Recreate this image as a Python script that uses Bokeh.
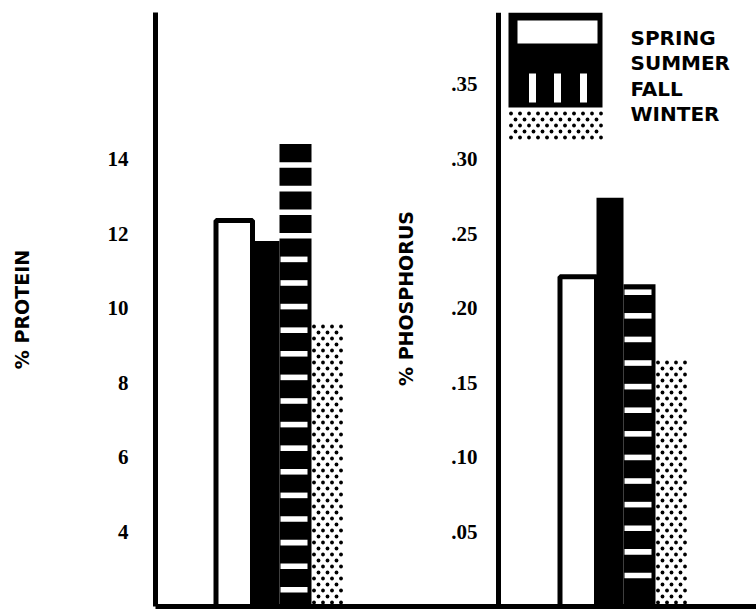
import numpy as np
from bokeh.plotting import figure
from bokeh.models import Range1d, FixedTicker, Span
from bokeh.core.properties import value
from bokeh.embed import file_html
from bokeh.resources import INLINE

# ---------------- data ----------------
seasons = ["SPRING", "SUMMER", "FALL", "WINTER"]
protein = [12.35, 11.8, 14.4, 9.65]          # % protein
phosphorus = [0.221, 0.274, 0.216, 0.166]    # % phosphorus
protein_ticks = [4, 6, 8, 10, 12, 14]
phosphorus_ticks = [0.05, 0.10, 0.15, 0.20, 0.25, 0.30, 0.35]
phosphorus_tick_labels = [".05", ".10", ".15", ".20", ".25", ".30", ".35"]

# ---------------- layout (page pixels) ----------------
W, H = 756, 614
FRAME_L, FRAME_R = 155, 756
FRAME_T, FRAME_B = 12, 606
PX_PER_PROTEIN = 37.3
PROT_BASE = 2.0
PHOS_BASE = 0.0
PROT_PER_PHOS = 40.0  # 0.05 % P spans the same height as 2 % protein
prot_end = PROT_BASE + (FRAME_B - FRAME_T) / PX_PER_PROTEIN
phos_end = PHOS_BASE + (prot_end - PROT_BASE) / PROT_PER_PHOS

BAR_W = [39, 27, 32, 33]
PANEL_LEFT = [213, 557]
PHOS_AXIS_X = 498

NUM_FONT = value("Liberation Serif")
TXT_FONT = value("DejaVu Sans")


def py(y):
    """page y (px) -> protein data units"""
    return PROT_BASE + (FRAME_B - y) / PX_PER_PROTEIN


def page_y_protein(v):
    return FRAME_B - (v - PROT_BASE) * PX_PER_PROTEIN


def page_y_phos(v):
    return FRAME_B - (v - PHOS_BASE) * PROT_PER_PHOS * PX_PER_PROTEIN


p = figure(width=W, height=H, output_backend="svg", toolbar_location=None,
           x_range=Range1d(FRAME_L, FRAME_R), y_range=Range1d(PROT_BASE, prot_end),
           min_border_left=FRAME_L, min_border_right=0,
           min_border_top=FRAME_T, min_border_bottom=H - FRAME_B)
p.extra_y_ranges = {"phos": Range1d(PHOS_BASE, phos_end)}
p.grid.visible = False
p.outline_line_color = None
p.background_fill_color = "white"
p.border_fill_color = "white"

# left axis (protein)
yax = p.yaxis[0]
yax.ticker = FixedTicker(ticks=protein_ticks)
yax.axis_line_width = 5
yax.axis_line_color = "black"
yax.major_tick_line_color = None
yax.minor_tick_line_color = None
yax.major_tick_out = 0
yax.major_tick_in = 0
yax.major_label_standoff = 27
yax.major_label_text_font = "Liberation Serif"
yax.major_label_text_font_style = "bold"
yax.major_label_text_font_size = "21px"
yax.major_label_text_color = "black"
yax.axis_label = "% PROTEIN"
yax.axis_label_text_font = "DejaVu Sans"
yax.axis_label_text_font_style = "bold"
yax.axis_label_text_font_size = "19px"
yax.axis_label_text_color = "black"
yax.axis_label_standoff = 72

# bottom axis: just the base line
xax = p.xaxis[0]
xax.ticker = FixedTicker(ticks=[])
xax.axis_line_width = 5
xax.axis_line_color = "black"
xax.major_tick_line_color = None
xax.minor_tick_line_color = None
xax.major_tick_out = 0
xax.major_tick_in = 0
xax.major_label_text_font_size = "0px"

# phosphorus axis in the middle
p.add_layout(Span(location=PHOS_AXIS_X, dimension="height", line_color="black", line_width=5))
p.text(x=[PHOS_AXIS_X - 21] * len(phosphorus_ticks), y=phosphorus_ticks, text=phosphorus_tick_labels,
       y_range_name="phos", text_align="right", text_baseline="middle",
       text_font=NUM_FONT, text_font_style="bold", text_font_size="21px", text_color="black")
p.text(x=[405], y=[py(298)], text=["% PHOSPHORUS"], angle=np.pi / 2,
       text_align="center", text_baseline="middle",
       text_font=TXT_FONT, text_font_style="bold", text_font_size="19px", text_color="black")


def bar_edges(left):
    edges = [left]
    for w in BAR_W:
        edges.append(edges[-1] + w)
    return edges


def dots(x0, x1, ytop_page, ybot_page, period=9.0, row=6.0, size=3.8):
    xs, ys = [], []
    r = 0
    y = ybot_page - 4
    while y > ytop_page + 1:
        off = 0 if r % 2 == 0 else period / 2
        x = x0 + 2.5 + off
        while x < x1 - 1:
            xs.append(x)
            ys.append(py(y))
            x += period
        y -= row
        r += 1
    p.scatter(xs, ys, size=size, marker="circle", fill_color="black", line_color=None)


def panel(values, yname, to_page, slit_offset):
    base = PROT_BASE if yname == "default" else PHOS_BASE
    e = bar_edges(PANEL_LEFT[0] if yname == "default" else PANEL_LEFT[1])
    kw = {} if yname == "default" else {"y_range_name": yname}
    # spring: open box
    p.quad(left=[e[0] + 2.5], right=[e[1]], bottom=[base], top=[values[0]],
           fill_color="white", line_color="black", line_width=5, **kw)
    # summer: solid
    p.quad(left=[e[1]], right=[e[2]], bottom=[base], top=[values[1]],
           fill_color="black", line_color=None, **kw)
    # fall: black with white horizontal slits
    p.quad(left=[e[2]], right=[e[3]], bottom=[base], top=[values[2]],
           fill_color="black", line_color=None, **kw)
    top_fall = to_page(values[2])
    top_summer = to_page(values[1])
    sl, sr, sb, st = [], [], [], []
    yc = top_fall + slit_offset
    while yc < FRAME_B - 10:
        full = yc < top_summer - 2
        sl.append(e[2] - (1 if full else -1))
        sr.append(e[3] + (1 if full else -4))
        sb.append(py(yc + 2.8))
        st.append(py(yc - 2.8))
        yc += 23.6
    p.quad(left=sl, right=sr, bottom=sb, top=st, fill_color="white", line_color=None)
    # winter: dotted
    dots(e[3], e[4], to_page(values[3]), FRAME_B)


panel(protein, "default", page_y_protein, 21)
panel(phosphorus, "phos", page_y_phos, 8)

# ---------------- legend graphic ----------------
LX0, LX1 = 508, 602
p.quad(left=[LX0], right=[LX1], bottom=[py(107)], top=[py(12)], fill_color="black", line_color=None)
p.quad(left=[517], right=[597], bottom=[py(43)], top=[py(20)], fill_color="white", line_color=None)
slit_x = [532, 557, 583]
p.quad(left=[x - 3.5 for x in slit_x], right=[x + 3.5 for x in slit_x],
       bottom=[py(102)] * 3, top=[py(73)] * 3, fill_color="white", line_color=None)
dots(LX0, LX1, 108, 141, period=9.0, row=6.0, size=3.8)
legend_y = [37, 62, 88, 113]
p.text(x=[630] * 4, y=[py(v) for v in legend_y], text=seasons,
       text_align="left", text_baseline="middle",
       text_font=TXT_FONT, text_font_style="bold", text_font_size="20px", text_color="black")

open("out.html", "w").write(file_html(p, INLINE))
